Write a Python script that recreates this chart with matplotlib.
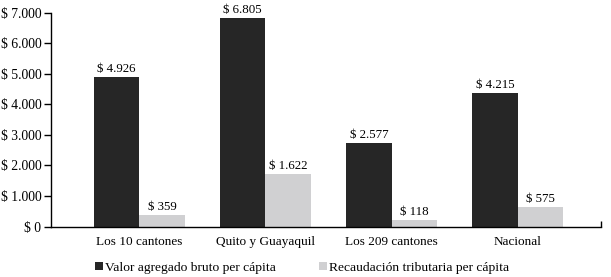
import numpy as np
import matplotlib
matplotlib.use("Agg")
from matplotlib import pyplot as plt
from matplotlib.ticker import FuncFormatter

plt.rcParams['font.family'] = ['Liberation Serif', 'DejaVu Serif']

categories = ["Los 10 cantones", "Quito y Guayaquil", "Los 209 cantones", "Nacional"]
series_names = ["Valor agregado bruto per cápita", "Recaudación tributaria per cápita"]

# bar heights as drawn in the picture
vab = [4900, 6830, 2740, 4370]
recaudacion = [380, 1730, 230, 640]
# printed labels above the bars
vab_labels = ["$ 4.926", "$ 6.805", "$ 2.577", "$ 4.215"]
rec_labels = ["$ 359", "$ 1.622", "$ 118", "$ 575"]

dark = "#262626"
light = "#d0d0d2"

fig = plt.figure(figsize=(6.11, 2.77), dpi=100)
ax = fig.add_axes([0.0835, 0.182, 0.9, 0.772])

x = np.arange(len(categories))
w = 0.36
b1 = ax.bar(x - w / 2, vab, w, color=dark, label=series_names[0])
b2 = ax.bar(x + w / 2, recaudacion, w, color=light, label=series_names[1])

for bars, labs in ((b1, vab_labels), (b2, rec_labels)):
    for bar, lab in zip(bars, labs):
        ax.text(bar.get_x() + bar.get_width() / 2, bar.get_height() + 60, lab,
                ha="center", va="bottom", fontsize=9.3)

ax.set_ylim(0, 7000)
ax.set_xlim(-0.7, 3.66)
ax.set_yticks(range(0, 7001, 1000))
ax.yaxis.set_major_formatter(FuncFormatter(lambda v, p: "$ " + f"{int(v):,}".replace(",", ".")))
ax.set_xticks(x)
ax.set_xticklabels(categories)
ax.set_xticks([3.66], minor=True)
ax.tick_params(axis="x", which="major", length=0, pad=7, labelsize=9.5)
ax.tick_params(axis="x", which="minor", direction="in", length=4, width=1)
ax.tick_params(axis="y", length=5, width=1, pad=2, labelsize=9.8)

for s in ["top", "right"]:
    ax.spines[s].set_visible(False)
ax.spines["left"].set_linewidth(1)
ax.spines["bottom"].set_linewidth(1)

fig.legend(loc="center", bbox_to_anchor=(0.495, 0.032), ncol=2, frameon=False,
           fontsize=9.7, handlelength=0.55, handleheight=0.55, handletextpad=0.2,
           columnspacing=3.2)

fig.savefig("out.png", dpi=100)
